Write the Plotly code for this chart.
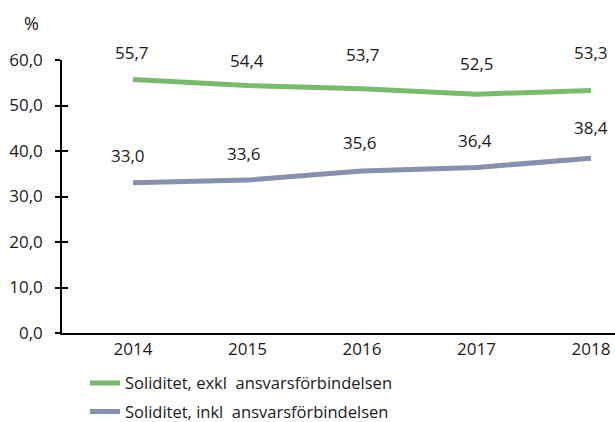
import plotly.graph_objects as go

years = ["2014", "2015", "2016", "2017", "2018"]
exkl = [55.7, 54.4, 53.7, 52.5, 53.3]
inkl = [33.0, 33.6, 35.6, 36.4, 38.4]
exkl_text = ["55,7", "54,4", "53,7", "52,5", "53,3"]
inkl_text = ["33,0", "33,6", "35,6", "36,4", "38,4"]
y_ticks = [0, 10, 20, 30, 40, 50, 60]
y_tick_labels = ["0,0", "10,0", "20,0", "30,0", "40,0", "50,0", "60,0"]

name_exkl = "Soliditet, exkl  ansvarsförbindelsen"
name_inkl = "Soliditet, inkl  ansvarsförbindelsen"

GREEN = "#7aba6c"
BLUE = "#8790ad"
FONT = "Open Sans"
TXT = "#1a1a1a"

# label offsets (styling, pixels)
exkl_shift = [27, 25, 34, 31, 38]
inkl_shift = [27, 27, 29, 27, 31]
exkl_xs = [-1, 0, 1, 1, 0]
inkl_xs = [-5, -3, -2, -1, 0]

fig = go.Figure()
fig.add_trace(go.Scatter(x=years, y=exkl, mode="lines", name=name_exkl,
                         legendgroup="a",
                         line=dict(color=GREEN, width=5)))
fig.add_trace(go.Scatter(x=years, y=inkl, mode="lines", name=name_inkl,
                         legendgroup="b",
                         line=dict(color=BLUE, width=5)))
# invisible trace to activate the overlay axis (inner tick marks)
fig.add_trace(go.Scatter(x=years[:1], y=[0], yaxis="y2", mode="lines",
                         showlegend=False, hoverinfo="skip",
                         line=dict(color="rgba(0,0,0,0)")))

ann = []
for i in range(len(years)):
    ann.append(dict(x=i, y=exkl[i], text=exkl_text[i], showarrow=False,
                    xanchor="center", yanchor="middle",
                    yshift=exkl_shift[i], xshift=exkl_xs[i],
                    font=dict(family=FONT, size=17, color=TXT)))
    ann.append(dict(x=i, y=inkl[i], text=inkl_text[i], showarrow=False,
                    xanchor="center", yanchor="middle",
                    yshift=inkl_shift[i], xshift=inkl_xs[i],
                    font=dict(family=FONT, size=17, color=TXT)))
ann.append(dict(xref="paper", yref="paper", x=-0.056, y=1.1355, text="%",
                xanchor="center", yanchor="middle",
                showarrow=False, font=dict(family=FONT, size=18, color=TXT)))

fig.update_layout(
    width=615, height=422,
    margin=dict(l=62, r=0, t=60, b=89, autoexpand=False),
    paper_bgcolor="white", plot_bgcolor="white",
    font=dict(family=FONT, size=17, color=TXT),
    annotations=ann,
    showlegend=True,
    legend=dict(x=0.0416, y=-0.12, xanchor="left", yanchor="top",
                font=dict(family=FONT, size=16.5, color=TXT),
                traceorder="grouped",
                bgcolor="rgba(0,0,0,0)", tracegroupgap=4, itemwidth=30),
    xaxis=dict(type="category", range=[-0.62, 4.21], showgrid=False,
               showline=True, linecolor="black", linewidth=1.5,
               ticks="", zeroline=False, tickfont=dict(size=17)),
    yaxis=dict(range=[0, 60], tickvals=y_ticks, ticktext=y_tick_labels,
               showgrid=False, zeroline=False, showline=True,
               linecolor="black", linewidth=1.5, ticks="outside",
               ticklen=5, tickwidth=1.5, tickcolor="black",
               ticklabelstandoff=9, tickfont=dict(size=17)),
    yaxis2=dict(range=[0, 60], tickvals=y_ticks, overlaying="y", side="left",
                showgrid=False, zeroline=False, showline=False,
                ticks="inside", ticklen=6, tickwidth=1.5, tickcolor="black",
                showticklabels=False),
)

fig.write_html("out.html",
               config={"displayModeBar": False},
               post_script="document.body.style.margin='0';"
                           "document.body.style.overflow='hidden';")
